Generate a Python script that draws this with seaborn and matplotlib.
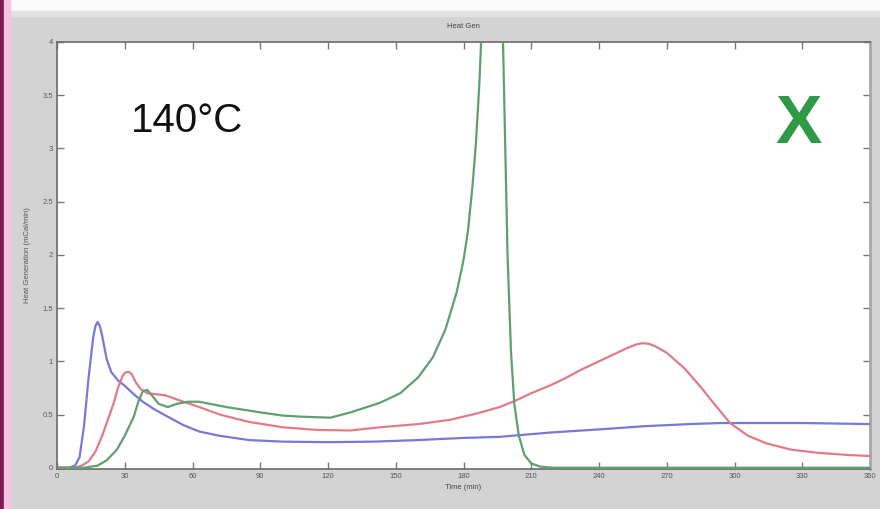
import matplotlib
matplotlib.use("Agg")
import matplotlib.pyplot as plt
import seaborn as sns
import pandas as pd
from matplotlib.patches import Rectangle

# ---- data ----
blue_t = [0, 5, 8, 10, 12, 14, 16, 17, 18, 19, 20, 22, 24, 27, 30, 34, 38, 43, 49, 56, 63, 72,
          85, 100, 120, 140, 160, 180, 196, 218, 240, 260, 280, 294, 310, 330, 345, 360]
blue_v = [0, 0, 0.02, 0.1, 0.4, 0.85, 1.22, 1.33, 1.37, 1.33, 1.24, 1.02, 0.9, 0.82, 0.77,
          0.69, 0.62, 0.55, 0.48, 0.4, 0.34, 0.3, 0.26, 0.245, 0.24, 0.245, 0.26, 0.28, 0.29,
          0.33, 0.36, 0.39, 0.41, 0.42, 0.42, 0.42, 0.415, 0.41]

red_t = [0, 8, 11, 14, 17, 20, 23, 25, 27, 29, 30, 31, 32, 33, 35, 37, 40, 44, 48, 52, 56, 63,
         72, 85, 100, 115, 130, 143, 160, 174, 186, 196, 203, 210, 218, 225, 232, 240, 248, 252,
         256, 259, 262, 265, 270, 278, 285, 291, 298, 306, 314, 325, 337, 350, 360]
red_v = [0, 0, 0.02, 0.06, 0.15, 0.3, 0.48, 0.6, 0.75, 0.86, 0.89, 0.9, 0.9, 0.88, 0.8, 0.74,
         0.7, 0.69, 0.68, 0.65, 0.62, 0.57, 0.5, 0.43, 0.38, 0.355, 0.35, 0.38, 0.41, 0.45, 0.51,
         0.57, 0.63, 0.7, 0.77, 0.84, 0.92, 1.0, 1.08, 1.12, 1.155, 1.17, 1.165, 1.14, 1.08,
         0.93, 0.76, 0.6, 0.42, 0.3, 0.23, 0.17, 0.14, 0.12, 0.11]

green_t = [0, 12, 18, 22, 26.5, 30, 34, 36, 38, 40, 42, 45, 49, 53, 58, 63, 75, 90, 100, 108,
           121, 130, 143, 152, 160, 166.5, 172, 177, 180, 182, 184, 185.5, 187, 188, 190, 193,
           196, 197.5, 198.5, 199.5, 201, 202.5, 204.5, 207, 210, 214, 220, 260, 300, 360]
green_v = [0, 0, 0.02, 0.07, 0.17, 0.3, 0.48, 0.62, 0.72, 0.73, 0.68, 0.6, 0.57, 0.6, 0.62,
           0.62, 0.57, 0.52, 0.49, 0.48, 0.47, 0.52, 0.61, 0.7, 0.85, 1.04, 1.3, 1.65, 1.95,
           2.23, 2.65, 3.05, 3.6, 4.1, 5.0, 5.5, 4.9, 4.0, 3.0, 2.0, 1.1, 0.6, 0.3, 0.12, 0.04,
           0.01, 0, 0, 0, 0]

x_ticks = [0, 30, 60, 90, 120, 150, 180, 210, 240, 270, 300, 330, 360]
y_ticks = [0, 0.5, 1, 1.5, 2, 2.5, 3, 3.5, 4]
y_tick_labels = ["0", "0.5", "1", "1.5", "2", "2.5", "3", "3.5", "4"]

df = pd.concat([
    pd.DataFrame({"t": blue_t, "v": blue_v, "s": "blue"}),
    pd.DataFrame({"t": red_t, "v": red_v, "s": "red"}),
    pd.DataFrame({"t": green_t, "v": green_v, "s": "green"}),
])

palette = {"blue": "#7a78d6", "red": "#e27a88", "green": "#5f9f70"}

sns.set_theme(style="white")
plt.rcParams["font.family"] = ["Liberation Sans", "DejaVu Sans"]

fig = plt.figure(figsize=(8.8, 5.09), dpi=100, facecolor="#d3d3d3")
# decorative frame pieces
fig.patches.append(Rectangle((0, 1 - 11 / 509), 1, 11 / 509, transform=fig.transFigure,
                             color="#fafafa", zorder=0))
fig.patches.append(Rectangle((0, 1 - 16 / 509), 1, 5 / 509, transform=fig.transFigure,
                             color="#dfe2e0", zorder=0))
fig.patches.append(Rectangle((0, 0), 4 / 880, 1, transform=fig.transFigure,
                             color="#7a2050", zorder=1))
fig.patches.append(Rectangle((4 / 880, 0), 6 / 880, 1, transform=fig.transFigure,
                             color="#f4c4e2", zorder=1))

ax = fig.add_axes([57 / 880, 1 - 469 / 509, (870 - 57) / 880, (469 - 42) / 509])
ax.set_facecolor("white")

sns.lineplot(data=df, x="t", y="v", hue="s", palette=palette, estimator=None, sort=False,
             linewidth=1.6, legend=False, ax=ax, zorder=3)

ax.set_xlim(0, 360)
ax.set_ylim(-0.012, 4)
ax.set_xticks(x_ticks)
ax.set_xticklabels([str(v) for v in x_ticks])
ax.set_yticks(y_ticks)
ax.set_yticklabels(y_tick_labels)
ax.tick_params(direction="in", length=5, width=1, color="#777777", labelsize=5.5,
               labelcolor="#555555", top=True, right=True, bottom=True, left=True, pad=3)
for sp in ax.spines.values():
    sp.set_color("#6a6a6a")
    sp.set_linewidth(1.2)
    sp.set_zorder(1)
ax.spines["right"].set_color("#a8a8a8")
ax.spines["right"].set_linewidth(2)

ax.set_title("Heat Gen", fontsize=5.5, color="#444444", pad=10)
ax.set_xlabel("Time (min)", fontsize=5.5, color="#444444", labelpad=3)
ax.set_ylabel("Heat Generation (mCal/min)", fontsize=5.5, color="#555555", labelpad=8)

ax.text(0.16, 0.815, "140°C", transform=ax.transAxes, fontsize=29, color="#111111",
        ha="center", va="center")
ax.text(0.912, 0.806, "X", transform=ax.transAxes, fontsize=50, color="#2e9a45",
        ha="center", va="center", fontweight="bold")

fig.savefig("out.png", dpi=100, facecolor=fig.get_facecolor())
